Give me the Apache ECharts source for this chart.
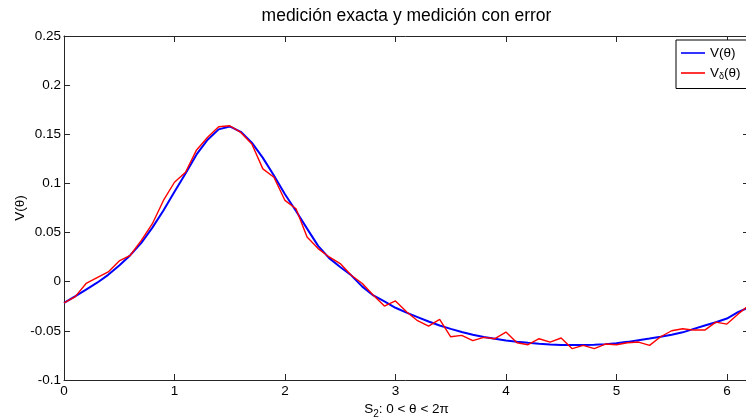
<!DOCTYPE html>
<html>
<head>
<meta charset="utf-8">
<script src="https://cdn.jsdelivr.net/npm/echarts@6/dist/echarts.min.js"></script>
<style>
  html, body { margin: 0; padding: 0; background: #fff; }
  #chart { width: 746px; height: 419px; }
</style>
</head>
<body>
<div id="chart"></div>
<script>
// Sample positions theta (step 0.1)
const theta = [
  0.0, 0.1, 0.2, 0.3, 0.4, 0.5, 0.6, 0.7, 0.8, 0.9,
  1.0, 1.1, 1.2, 1.3, 1.4, 1.5, 1.6, 1.7, 1.8, 1.9,
  2.0, 2.1, 2.2, 2.3, 2.4, 2.5, 2.6, 2.7, 2.8, 2.9,
  3.0, 3.1, 3.2, 3.3, 3.4, 3.5, 3.6, 3.7, 3.8, 3.9,
  4.0, 4.1, 4.2, 4.3, 4.4, 4.5, 4.6, 4.7, 4.8, 4.9,
  5.0, 5.1, 5.2, 5.3, 5.4, 5.5, 5.6, 5.7, 5.8, 5.9,
  6.0, 6.1, 6.2
];

// Exact measurement V(theta)
const vExact = [
  -0.0215, -0.0150, -0.0080, -0.0010, 0.0070, 0.0165, 0.0270, 0.0395, 0.0550, 0.0725,
  0.0915, 0.1100, 0.1295, 0.1445, 0.1550, 0.1580, 0.1525, 0.1415, 0.1260, 0.1080,
  0.0890, 0.0720, 0.0540, 0.0365, 0.0240, 0.0150, 0.0065, -0.0050, -0.0140, -0.0200,
  -0.0265, -0.0315, -0.0360, -0.0405, -0.0445, -0.0480, -0.0512, -0.0540, -0.0563, -0.0580,
  -0.0597, -0.0610, -0.0622, -0.0632, -0.0638, -0.0643, -0.0645, -0.0645, -0.0641, -0.0635,
  -0.0627, -0.0612, -0.0595, -0.0578, -0.0560, -0.0540, -0.0515, -0.0480, -0.0445, -0.0412,
  -0.0375, -0.0310, -0.0260
];

// Measurement with error V_delta(theta)
const vError = [
  -0.0215, -0.0154, -0.0018, 0.0042, 0.0100, 0.0211, 0.0269, 0.0421, 0.0590, 0.0827,
  0.1012, 0.1114, 0.1341, 0.1469, 0.1577, 0.1587, 0.1519, 0.1402, 0.1148, 0.1063,
  0.0827, 0.0742, 0.0454, 0.0337, 0.0252, 0.0185, 0.0066, -0.0018, -0.0137, -0.0248,
  -0.0195, -0.0306, -0.0397, -0.0451, -0.0383, -0.0560, -0.0546, -0.0600, -0.0566, -0.0580,
  -0.0512, -0.0621, -0.0641, -0.0580, -0.0614, -0.0573, -0.0681, -0.0648, -0.0681, -0.0634,
  -0.0641, -0.0621, -0.0614, -0.0648, -0.0560, -0.0499, -0.0478, -0.0492, -0.0492, -0.0411,
  -0.0431, -0.0330, -0.0240
];

const xTicks = [0, 1, 2, 3, 4, 5, 6];
const seriesNames = ['V(θ)', 'Vδ(θ)'];
const titleText = 'medición exacta y medición con error';

const FONT = 'Liberation Sans, Arial, sans-serif';
const AXIS_COLOR = '#262626';

const chart = echarts.init(document.getElementById('chart'), null, { renderer: 'canvas' });

const pairs = (ys) => theta.map((t, i) => [t, ys[i]]);

const baseX = {
  type: 'value', min: 0, max: 6.2,
  axisLine: { show: true, onZero: false, lineStyle: { color: AXIS_COLOR, width: 1 } },
  axisTick: { show: true, inside: true, length: 6, customValues: xTicks, lineStyle: { color: AXIS_COLOR } },
  splitLine: { show: false }
};
const baseY = {
  type: 'value', min: -0.1, max: 0.25, interval: 0.05,
  axisLine: { show: true, onZero: false, lineStyle: { color: AXIS_COLOR, width: 1 } },
  axisTick: { show: true, inside: true, length: 6, lineStyle: { color: AXIS_COLOR } },
  splitLine: { show: false }
};

chart.setOption({
  animation: false,
  backgroundColor: '#fff',
  grid: { left: 64, right: -3, top: 36, bottom: 39, containLabel: false, outerBoundsMode: 'none' },
  xAxis: [
    Object.assign({}, baseX, {
      position: 'bottom',
      axisLabel: { show: true, customValues: xTicks, color: '#000', fontFamily: FONT, fontSize: 13.5, margin: 4 },
      name: '{t|S}{s|2}{t|: 0 < θ < 2π}',
      nameLocation: 'middle', nameGap: 20, nameMoveOverlap: false,
      nameTextStyle: {
        color: '#000', fontFamily: FONT,
        rich: {
          t: { fontFamily: FONT, fontSize: 13.5, color: '#000' },
          s: { fontFamily: FONT, fontSize: 10, color: '#000', padding: [9, 0, 0, 0] }
        }
      }
    }),
    Object.assign({}, baseX, {
      position: 'top',
      axisLabel: { show: false },
      name: titleText,
      nameLocation: 'middle', nameGap: 11,
      nameTextStyle: { color: '#000', fontFamily: FONT, fontSize: 17.5 }
    })
  ],
  yAxis: [
    Object.assign({}, baseY, {
      position: 'left',
      axisLabel: { show: true, color: '#000', fontFamily: FONT, fontSize: 13.5, margin: 3 },
      name: 'V(θ)', nameLocation: 'middle', nameGap: 37, nameRotate: 90, nameMoveOverlap: false,
      nameTextStyle: { color: '#000', fontFamily: FONT, fontSize: 13.5 }
    }),
    Object.assign({}, baseY, {
      position: 'right',
      axisLabel: { show: false }
    })
  ],
  legend: {
    data: seriesNames,
    orient: 'vertical',
    left: 676, top: 40,
    padding: [6, 10, 7, 5],
    itemGap: 6,
    icon: 'rect',
    itemWidth: 24, itemHeight: 1.6,
    borderColor: '#000', borderWidth: 1, borderRadius: 0,
    backgroundColor: '#fff',
    textStyle: {
      color: '#000', fontFamily: FONT, fontSize: 13.5,
      rich: {
        t: { fontFamily: FONT, fontSize: 13.5, color: '#000', lineHeight: 14 },
        s: { fontFamily: FONT, fontSize: 9, color: '#000', padding: [8, 0, 0, 0] }
      }
    },
    formatter: (name) => name === 'Vδ(θ)' ? '{t|V}{s|δ}{t|(θ)}' : '{t|' + name + '}'
  },
  series: [
    {
      name: seriesNames[0], type: 'line', xAxisIndex: 0, yAxisIndex: 0,
      data: pairs(vExact), symbol: 'none', smooth: false,
      lineStyle: { color: '#0000ff', width: 2 }, itemStyle: { color: '#0000ff' },
      z: 2
    },
    {
      name: seriesNames[1], type: 'line', xAxisIndex: 0, yAxisIndex: 0,
      data: pairs(vError), symbol: 'none', smooth: false,
      lineStyle: { color: '#ff0000', width: 1.4 }, itemStyle: { color: '#ff0000' },
      z: 3
    }
  ]
});
</script>
</body>
</html>
